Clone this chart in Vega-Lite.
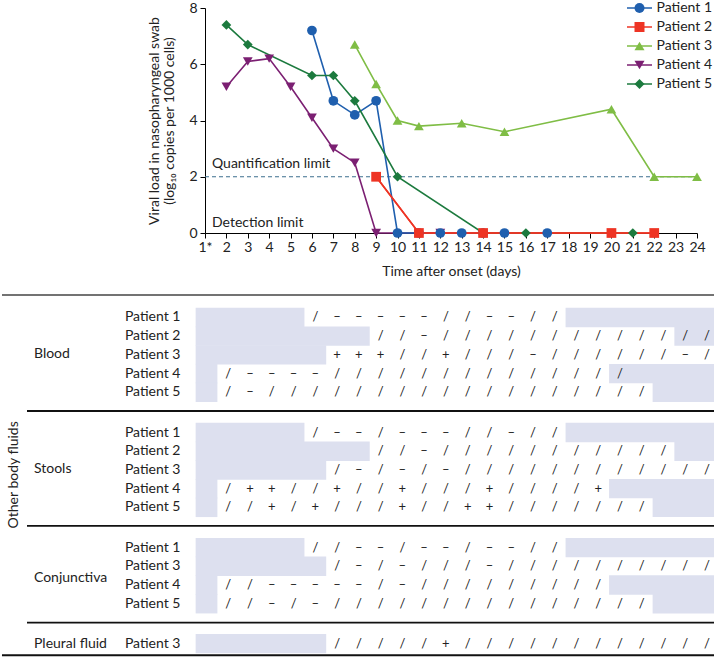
{
  "$schema": "https://vega.github.io/schema/vega-lite/v6.json",
  "padding": {"top": 1, "left": 0, "right": 0, "bottom": 0},
  "background": "white",
  "spacing": 16,
  "resolve": {"scale": {"color": "independent", "shape": "independent", "stroke": "independent"}},
  "config": {
    "font": "Lato",
    "view": {"stroke": null},
    "text": {"font": "Lato", "color": "#222"},
    "axis": {"labelOverlap": false}
  },
  "datasets": {
    "vl": [
      {"p": "Patient 4", "d": 12, "v": 0},
      {"p": "Patient 1", "d": 6, "v": 7.2}, {"p": "Patient 1", "d": 7, "v": 4.7}, {"p": "Patient 1", "d": 8, "v": 4.2}, {"p": "Patient 1", "d": 9, "v": 4.7}, {"p": "Patient 1", "d": 10, "v": 0}, {"p": "Patient 1", "d": 11, "v": 0}, {"p": "Patient 1", "d": 12, "v": 0}, {"p": "Patient 1", "d": 13, "v": 0}, {"p": "Patient 1", "d": 14, "v": 0}, {"p": "Patient 1", "d": 15, "v": 0}, {"p": "Patient 1", "d": 17, "v": 0},
      {"p": "Patient 3", "d": 8, "v": 6.7}, {"p": "Patient 3", "d": 9, "v": 5.3}, {"p": "Patient 3", "d": 10, "v": 4.0}, {"p": "Patient 3", "d": 11, "v": 3.8}, {"p": "Patient 3", "d": 13, "v": 3.9}, {"p": "Patient 3", "d": 15, "v": 3.6}, {"p": "Patient 3", "d": 20, "v": 4.4}, {"p": "Patient 3", "d": 22, "v": 2.0}, {"p": "Patient 3", "d": 24, "v": 2.0},
      {"p": "Patient 4", "d": 2, "v": 5.2}, {"p": "Patient 4", "d": 3, "v": 6.1}, {"p": "Patient 4", "d": 4, "v": 6.2}, {"p": "Patient 4", "d": 5, "v": 5.2}, {"p": "Patient 4", "d": 6, "v": 4.1}, {"p": "Patient 4", "d": 7, "v": 3.0}, {"p": "Patient 4", "d": 8, "v": 2.5}, {"p": "Patient 4", "d": 9, "v": 0},
      {"p": "Patient 5", "d": 2, "v": 7.4}, {"p": "Patient 5", "d": 3, "v": 6.7}, {"p": "Patient 5", "d": 6, "v": 5.6}, {"p": "Patient 5", "d": 7, "v": 5.6}, {"p": "Patient 5", "d": 8, "v": 4.7}, {"p": "Patient 5", "d": 10, "v": 2.0}, {"p": "Patient 5", "d": 14, "v": 0}, {"p": "Patient 5", "d": 16, "v": 0}, {"p": "Patient 5", "d": 21, "v": 0},
      {"p": "Patient 2", "d": 9, "v": 2.0}, {"p": "Patient 2", "d": 11, "v": 0}, {"p": "Patient 2", "d": 14, "v": 0}, {"p": "Patient 2", "d": 20, "v": 0}, {"p": "Patient 2", "d": 22, "v": 0}
    ],
    "limits": [
      {"d": 1, "v": 2, "label": "Quantification limit"},
      {"d": 1, "v": 0, "label": "Detection limit"}
    ],
    "shade": [
      {"r": 1, "a": 0.5, "b": 5.5}, {"r": 1, "a": 17.5, "b": 24.42},
      {"r": 2, "a": 0.5, "b": 8.5}, {"r": 2, "a": 22.5, "b": 24.42},
      {"r": 3, "a": 0.5, "b": 6.5},
      {"r": 4, "a": 0.5, "b": 1.5}, {"r": 4, "a": 19.5, "b": 24.42},
      {"r": 5, "a": 0.5, "b": 1.5}, {"r": 5, "a": 21.5, "b": 24.42},
      {"r": 7.15, "a": 0.5, "b": 5.5}, {"r": 7.15, "a": 17.5, "b": 24.42},
      {"r": 8.15, "a": 0.5, "b": 8.5}, {"r": 8.15, "a": 22.5, "b": 24.42},
      {"r": 9.15, "a": 0.5, "b": 6.5},
      {"r": 10.15, "a": 0.5, "b": 1.5}, {"r": 10.15, "a": 19.5, "b": 24.42},
      {"r": 11.15, "a": 0.5, "b": 1.5}, {"r": 11.15, "a": 21.5, "b": 24.42},
      {"r": 13.3, "a": 0.5, "b": 5.5}, {"r": 13.3, "a": 17.5, "b": 24.42},
      {"r": 14.3, "a": 0.5, "b": 6.5},
      {"r": 15.3, "a": 0.5, "b": 1.5}, {"r": 15.3, "a": 19.5, "b": 24.42},
      {"r": 16.3, "a": 0.5, "b": 1.5}, {"r": 16.3, "a": 21.5, "b": 24.42},
      {"r": 18.43, "a": 0.5, "b": 6.5}
    ],
    "rows": [
      {"p": "Patient 1", "r": 1}, {"p": "Patient 2", "r": 2}, {"p": "Patient 3", "r": 3}, {"p": "Patient 4", "r": 4}, {"p": "Patient 5", "r": 5},
      {"p": "Patient 1", "r": 7.15}, {"p": "Patient 2", "r": 8.15}, {"p": "Patient 3", "r": 9.15}, {"p": "Patient 4", "r": 10.15}, {"p": "Patient 5", "r": 11.15},
      {"p": "Patient 1", "r": 13.3}, {"p": "Patient 3", "r": 14.3}, {"p": "Patient 4", "r": 15.3}, {"p": "Patient 5", "r": 16.3},
      {"p": "Patient 3", "r": 18.43}
    ],
    "groups": [
      {"g": "Blood", "r": 2.96}, {"g": "Stools", "r": 9.1}, {"g": "Conjunctiva", "r": 14.9}, {"g": "Pleural fluid", "r": 18.43}
    ],
    "cells": [
      {"r": 1, "d": [6,7,8,9,10,11,12,13,14,15,16,17], "s": ["/","–","–","–","–","–","/","/","–","–","/","/"]},
      {"r": 2, "d": [9,10,11,12,13,14,15,16,17,18,19,20,21,22,23,24], "s": ["/","/","–","/","/","/","/","/","/","/","/","/","/","/","/","/"]},
      {"r": 3, "d": [7,8,9,10,11,12,13,14,15,16,17,18,19,20,21,22,23,24], "s": ["+","+","+","/","/","+","/","/","/","–","/","/","/","/","/","/","–","/"]},
      {"r": 4, "d": [2,3,4,5,6,7,8,9,10,11,12,13,14,15,16,17,18,19,20], "s": ["/","–","–","–","–","/","/","/","/","/","/","/","/","/","/","/","/","/","/"]},
      {"r": 5, "d": [2,3,4,5,6,7,8,9,10,11,12,13,14,15,16,17,18,19,20,21], "s": ["/","–","/","/","/","/","/","/","/","/","/","/","/","/","/","/","/","/","/","/"]},
      {"r": 7.15, "d": [6,7,8,9,10,11,12,13,14,15,16,17], "s": ["/","–","–","/","–","–","–","/","/","–","/","/"]},
      {"r": 8.15, "d": [9,10,11,12,13,14,15,16,17,18,19,20,21,22], "s": ["/","/","–","/","/","/","/","/","/","/","/","/","/","/"]},
      {"r": 9.15, "d": [7,8,9,10,11,12,13,14,15,16,17,18,19,20,21,22,23,24], "s": ["/","–","/","–","/","–","/","/","/","/","/","/","/","/","/","/","/","/"]},
      {"r": 10.15, "d": [2,3,4,5,6,7,8,9,10,11,12,13,14,15,16,17,18,19], "s": ["/","+","+","/","/","+","/","/","+","/","/","/","+","/","/","/","/","+"]},
      {"r": 11.15, "d": [2,3,4,5,6,7,8,9,10,11,12,13,14,15,16,17,18,19,20,21], "s": ["/","/","+","/","+","/","/","/","+","/","/","+","+","/","/","/","/","/","/","/"]},
      {"r": 13.3, "d": [6,7,8,9,10,11,12,13,14,15,16,17], "s": ["/","/","–","–","/","–","–","/","–","–","/","/"]},
      {"r": 14.3, "d": [7,8,9,10,11,12,13,14,15,16,17,18,19,20,21,22,23,24], "s": ["/","–","/","–","/","/","/","–","/","/","/","/","/","/","/","/","/","/"]},
      {"r": 15.3, "d": [2,3,4,5,6,7,8,9,10,11,12,13,14,15,16,17,18,19], "s": ["/","/","–","–","–","–","–","/","–","/","/","/","/","/","/","/","/","/"]},
      {"r": 16.3, "d": [2,3,4,5,6,7,8,9,10,11,12,13,14,15,16,17,18,19,20,21], "s": ["/","/","–","/","–","/","/","/","/","/","/","/","/","/","/","/","/","/","/","/"]},
      {"r": 18.43, "d": [7,8,9,10,11,12,13,14,15,16,17,18,19,20,21,22,23,24], "s": ["/","/","/","/","/","+","/","/","/","/","/","/","/","/","/","/","/","/"]}
    ]
  },
  "vconcat": [
    {
      "width": 492,
      "height": 225,
      "data": {"name": "vl"},
      "encoding": {
        "x": {
          "field": "d", "type": "quantitative",
          "scale": {"domain": [1, 24], "nice": false, "zero": false},
          "axis": {
            "values": [1,2,3,4,5,6,7,8,9,10,11,12,13,14,15,16,17,18,19,20,21,22,23,24],
            "labelExpr": "datum.value === 1 ? '1*' : datum.label",
            "title": "Time after onset (days)",
            "titleFontSize": 14, "titleFontWeight": "normal", "titleColor": "#222", "titlePadding": 10,
            "labelFontSize": 14, "labelColor": "#222", "labelPadding": 2, "labelFlush": false, "labelOverlap": false, "labelBound": false,
            "tickSize": 5, "tickColor": "#000", "domainColor": "#000", "grid": false
          }
        },
        "y": {
          "field": "v", "type": "quantitative",
          "scale": {"domain": [0, 8], "nice": false},
          "axis": {
            "values": [0, 2, 4, 6, 8],
            "title": ["Viral load in nasopharyngeal swab", "(log₁₀ copies per 1000 cells)"],
            "titleFontSize": 14, "titleFontWeight": "normal", "titleColor": "#222", "titlePadding": 12, "titleLineHeight": 15,
            "labelFontSize": 14, "labelColor": "#222", "labelPadding": 3, "labelFlush": false,
            "tickSize": 5, "tickColor": "#000", "domainColor": "#000", "grid": false
          }
        }
      },
      "layer": [
        {
          "data": {"name": "limits"},
          "transform": [{"filter": "datum.v === 2"}],
          "mark": {"type": "rule", "strokeDash": [4, 3], "color": "#3d6f8e", "strokeWidth": 1.2},
          "encoding": {"x2": {"datum": 24}}
        },
        {
          "data": {"name": "limits"},
          "transform": [{"filter": "datum.v === 2"}],
          "mark": {"type": "text", "align": "left", "baseline": "middle", "fontSize": 14, "dx": 7, "dy": -13},
          "encoding": {"text": {"field": "label"}}
        },
        {
          "data": {"name": "limits"},
          "transform": [{"filter": "datum.v === 0"}],
          "mark": {"type": "text", "align": "left", "baseline": "middle", "fontSize": 14, "dx": 7, "dy": -10},
          "encoding": {"text": {"field": "label"}}
        },
        {
          "mark": {"type": "line", "strokeWidth": 1.6},
          "encoding": {
            "stroke": {
              "field": "p", "type": "nominal", "title": null,
              "scale": {"range": ["#1f5fae", "#ee3424", "#7fbd45", "#7b1f72", "#1c7a3e"]},
              "legend": {
                "orient": "none", "legendX": 427.5, "legendY": -7, "padding": 0,
                "symbolType": "M-2.5,0H2.5", "symbolSize": 100, "symbolStrokeWidth": 1.5,
                "labelFontSize": 14, "labelFont": "Lato", "labelOpacity": 0,
                "labelOffset": 10, "rowPadding": 5
              }
            }
          }
        },
        {
          "transform": [{"filter": "datum.p === 'Patient 2'"}],
          "mark": {"type": "line", "strokeWidth": 1.6, "color": "#ee3424"},
          "encoding": {}
        },
        {
          "mark": {"type": "point", "filled": true, "size": 95, "opacity": 1},
          "encoding": {
            "color": {
              "field": "p", "type": "nominal", "title": null,
              "scale": {"domain": ["Patient 1", "Patient 2", "Patient 3", "Patient 4", "Patient 5"], "range": ["#1f5fae", "#ee3424", "#7fbd45", "#7b1f72", "#1c7a3e"]},
              "legend": {
                "orient": "none", "legendX": 427.5, "legendY": -7, "padding": 0,
                "labelFontSize": 14, "labelColor": "#222", "labelFont": "Lato",
                "symbolSize": 100, "labelOffset": 10, "rowPadding": 5
              }
            },
            "shape": {
              "field": "p", "type": "nominal", "title": null,
              "scale": {"domain": ["Patient 1", "Patient 2", "Patient 3", "Patient 4", "Patient 5"], "range": ["circle", "square", "triangle-up", "triangle-down", "diamond"]},
              "legend": {
                "orient": "none", "legendX": 427.5, "legendY": -7, "padding": 0,
                "labelFontSize": 14, "labelColor": "#222", "labelFont": "Lato",
                "symbolSize": 100, "labelOffset": 10, "rowPadding": 5
              }
            }
          }
        }
      ]
    },
    {
      "width": 492,
      "height": 363,
      "encoding": {
        "x": {"type": "quantitative", "scale": {"domain": [0.93, 23.54], "nice": false, "zero": false, "padding": 0}, "axis": null},
        "y": {"type": "quantitative", "scale": {"domain": [-0.2, 19.2], "reverse": true, "nice": false, "zero": false, "padding": 0}, "axis": null}
      },
      "layer": [
        {
          "data": {"name": "shade"},
          "mark": {"type": "bar", "orient": "horizontal", "size": 19.4, "color": "#dde0ef"},
          "encoding": {
            "x": {"field": "a", "type": "quantitative"},
            "x2": {"field": "b"},
            "y": {"field": "r", "type": "quantitative"}
          }
        },
        {
          "data": {"values": [{"y": 6.0}, {"y": 12.14}, {"y": 17.31}]},
          "mark": {"type": "rule", "color": "#111", "strokeWidth": 1.8},
          "encoding": {
            "x": {"datum": -7.25, "type": "quantitative"},
            "x2": {"datum": 24.42},
            "y": {"field": "y", "type": "quantitative"}
          }
        },
        {
          "data": {"values": [{"y": -0.2}]},
          "mark": {"type": "rule", "color": "#444", "strokeWidth": 1.6},
          "encoding": {
            "x": {"datum": -8.4, "type": "quantitative"},
            "x2": {"datum": 24.42},
            "y": {"field": "y", "type": "quantitative"}
          }
        },
        {
          "data": {"values": [{"y": 19.05}]},
          "mark": {"type": "rule", "color": "#111", "strokeWidth": 2},
          "encoding": {
            "x": {"datum": -8.4, "type": "quantitative"},
            "x2": {"datum": 24.42},
            "y": {"field": "y", "type": "quantitative"}
          }
        },
        {
          "data": {"name": "groups"},
          "mark": {"type": "text", "align": "left", "baseline": "middle", "fontSize": 14},
          "encoding": {
            "x": {"datum": -6.93, "type": "quantitative"},
            "y": {"field": "r", "type": "quantitative"},
            "text": {"field": "g"}
          }
        },
        {
          "data": {"name": "rows"},
          "mark": {"type": "text", "align": "left", "baseline": "middle", "fontSize": 14},
          "encoding": {
            "x": {"datum": -2.75, "type": "quantitative"},
            "y": {"field": "r", "type": "quantitative"},
            "text": {"field": "p"}
          }
        },
        {
          "data": {"values": [{"t": "Other body fluids", "r": 9.41}]},
          "mark": {"type": "text", "align": "center", "baseline": "middle", "fontSize": 14, "angle": 270},
          "encoding": {
            "x": {"datum": -7.85, "type": "quantitative"},
            "y": {"field": "r", "type": "quantitative"},
            "text": {"field": "t"}
          }
        },
        {
          "data": {"name": "cells"},
          "transform": [{"flatten": ["d", "s"]}],
          "mark": {"type": "text", "align": "center", "baseline": "middle", "fontSize": 13, "color": "#222"},
          "encoding": {
            "x": {"field": "d", "type": "quantitative"},
            "y": {"field": "r", "type": "quantitative"},
            "text": {"field": "s"}
          }
        }
      ]
    }
  ]
}
